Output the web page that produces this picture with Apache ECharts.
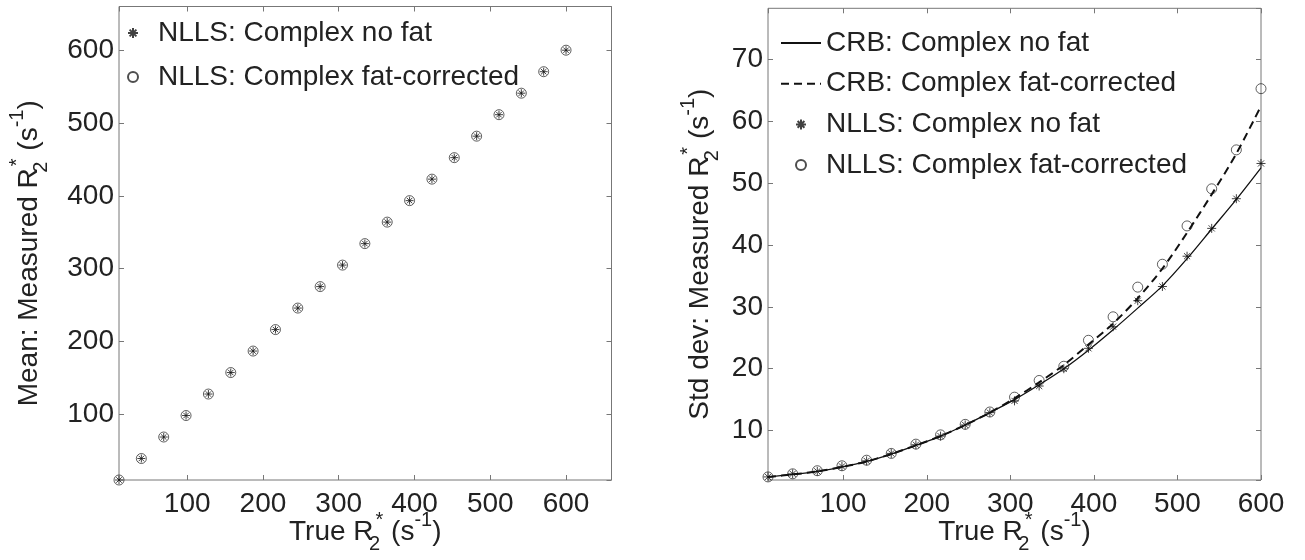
<!DOCTYPE html>
<html>
<head>
<meta charset="utf-8">
<script src="https://cdn.jsdelivr.net/npm/echarts@6/dist/echarts.min.js"></script>
<style>
  html, body { margin: 0; padding: 0; background: #fff; }
  #chart { width: 1305px; height: 560px; }
</style>
</head>
<body>
<div id="chart"></div>
<script>
// true R2* values (x positions of the markers)
const trueR2 = [10, 39.5, 69, 98.5, 128, 157.5, 187, 216.5, 246, 275.5, 305, 334.5, 364, 393.5, 423, 452.5, 482, 511.5, 541, 570.5, 600];

// left panel: mean of measured R2*
const meanNoFat = [10, 39.5, 69, 98.5, 128, 157.5, 187, 216.5, 246, 275.5, 305, 334.5, 364, 393.5, 423, 452.5, 482, 511.5, 541, 570.5, 600];
const meanFatCorr = [10, 39.5, 69, 98.5, 128, 157.5, 187, 216.5, 246, 275.5, 305, 334.5, 364, 393.5, 423, 452.5, 482, 511.5, 541, 570.5, 600];

// right panel: standard deviation of measured R2*
const sdNoFat = [2.5, 3.0, 3.4, 4.2, 5.1, 6.3, 7.7, 9.1, 10.9, 12.9, 14.8, 17.2, 20.0, 23.3, 26.8, 31.0, 33.3, 38.2, 42.7, 47.5, 53.2];
const sdFatCorr = [2.5, 3.0, 3.5, 4.3, 5.2, 6.3, 7.8, 9.3, 11.0, 13.0, 15.4, 18.1, 20.4, 24.6, 28.4, 33.2, 36.9, 43.1, 49.1, 55.4, 65.3];
const crbNoFat = [2.5, 2.9, 3.4, 4.1, 5.0, 6.2, 7.6, 9.1, 10.9, 12.9, 15.0, 17.4, 20.0, 23.0, 26.3, 29.8, 33.4, 37.8, 42.6, 47.4, 52.5];
const crbFatCorr = [2.5, 2.9, 3.4, 4.1, 5.0, 6.2, 7.6, 9.1, 10.9, 12.9, 15.2, 17.8, 20.6, 23.9, 27.3, 31.4, 36.2, 42.0, 48.2, 54.8, 62.5];

const FONT = "'Liberation Sans', Arial, sans-serif";
const FS = 28;
const TEXT = '#222';
const FRAME = '#777';
const STAR = 'path://M0,5L10,5M5,0L5,10M1.6,1.6L8.4,8.4M1.6,8.4L8.4,1.6';

function pairs(xs, ys) {
  return xs.map((x, i) => [x, ys[i]]);
}

const rich = {
  t: { fontSize: FS, lineHeight: 44, verticalAlign: 'middle', color: TEXT, fontFamily: FONT },
  sub: { fontSize: 20, lineHeight: 20, verticalAlign: 'bottom', color: TEXT, fontFamily: FONT, width: 2 },
  sup: { fontSize: 20, lineHeight: 20, verticalAlign: 'top', color: TEXT, fontFamily: FONT },
};

function valueAxis(gridIndex, min, max, opts = {}) {
  return Object.assign({
    type: 'value',
    gridIndex,
    min,
    max,
    splitLine: { show: false },
    axisLine: { show: false },
    axisTick: { show: true, inside: true, length: 5, lineStyle: { color: FRAME, width: 1 } },
    axisLabel: {
      show: true, margin: 10, color: TEXT, fontSize: FS, fontFamily: FONT,
      showMinLabel: false, showMaxLabel: false,
    },
    nameLocation: 'middle',
    nameMoveOverlap: false,
    nameTextStyle: { rich },
  }, opts);
}

function mirror(axis, position) {
  return Object.assign({}, axis, {
    position,
    name: '',
    axisLabel: { show: false },
  });
}

const yLabel = {
  show: true, margin: 5, color: TEXT, fontSize: FS, fontFamily: FONT,
  showMinLabel: false, showMaxLabel: false,
};

const xLeft = valueAxis(0, 10, 660, {
  position: 'bottom', splitNumber: 6,
  name: '{t|True R}{sub|2}{sup|*}{t| (s}{sup|-1}{t|)}', nameGap: 30,
});
const yLeft = valueAxis(0, 10, 660, {
  position: 'left', splitNumber: 6, axisLabel: yLabel,
  name: '{t|Mean: Measured R}{sub|2}{sup|*}{t| (s}{sup|-1}{t|)}', nameGap: 68, nameRotate: 90,
  nameTextStyle: { rich, padding: [0, 20, 0, 0] },
});
const xRight = valueAxis(1, 10, 600, {
  position: 'bottom', splitNumber: 6,
  name: '{t|True R}{sub|2}{sup|*}{t| (s}{sup|-1}{t|)}', nameGap: 30,
});
xRight.axisLabel = Object.assign({}, xRight.axisLabel, { showMaxLabel: true });
const yRight = valueAxis(1, 2, 78.3, {
  position: 'left', splitNumber: 7, axisLabel: yLabel,
  name: '{t|Std dev: Measured R}{sub|2}{sup|*}{t| (s}{sup|-1}{t|)}', nameGap: 46, nameRotate: 90,
  nameTextStyle: { rich, padding: [0, 20, 0, 0] },
});

const starStyle = { color: 'transparent', borderColor: '#111', borderWidth: 1 };
const circleStyle = { color: 'transparent', borderColor: '#222', borderWidth: 0.9 };
const noSymbol = { color: 'transparent', borderColor: 'transparent', borderWidth: 0, opacity: 0 };
const legendText = { fontSize: FS, color: TEXT, fontFamily: FONT, lineHeight: 30 };

const chart = echarts.init(document.getElementById('chart'));
chart.setOption({
  backgroundColor: '#fff',
  animation: false,
  grid: [
    {
      left: 119, top: 6.5, width: 492.5, height: 473.5, outerBoundsMode: 'none', containLabel: false,
      show: true, borderColor: FRAME, borderWidth: 1, backgroundColor: 'transparent',
    },
    {
      left: 768, top: 8.3, width: 493, height: 471.7, outerBoundsMode: 'none', containLabel: false,
      show: true, borderColor: FRAME, borderWidth: 1, backgroundColor: 'transparent',
    },
  ],
  xAxis: [xLeft, mirror(xLeft, 'top'), xRight, mirror(xRight, 'top')],
  yAxis: [yLeft, mirror(yLeft, 'right'), yRight, mirror(yRight, 'right')],
  legend: [
    {
      orient: 'vertical', left: 122, top: 13, itemWidth: 40, itemHeight: 10, itemGap: 14,
      textStyle: legendText, selectedMode: false,
      data: ['NLLS: Complex no fat', 'NLLS: Complex fat-corrected'],
    },
    {
      orient: 'vertical', left: 775, top: 23, itemWidth: 40, itemHeight: 10, itemGap: 10.7,
      textStyle: legendText, selectedMode: false,
      data: [
        { name: 'CRB: Complex no fat', itemStyle: noSymbol },
        { name: 'CRB: Complex fat-corrected', itemStyle: noSymbol },
        'NLLS: Complex no fat',
        'NLLS: Complex fat-corrected',
      ],
    },
  ],
  series: [
    {
      name: 'NLLS: Complex no fat', type: 'scatter', xAxisIndex: 0, yAxisIndex: 0,
      symbol: STAR, symbolSize: 8, itemStyle: starStyle, data: pairs(trueR2, meanNoFat),
    },
    {
      name: 'NLLS: Complex fat-corrected', type: 'scatter', xAxisIndex: 0, yAxisIndex: 0,
      symbol: 'circle', symbolSize: 10, itemStyle: circleStyle, data: pairs(trueR2, meanFatCorr),
    },
    {
      name: 'CRB: Complex no fat', type: 'line', xAxisIndex: 2, yAxisIndex: 2,
      showSymbol: false, smooth: 0.3, symbol: 'none',
      lineStyle: { color: '#111', width: 1.3, type: 'solid' },
      itemStyle: { color: '#111' },
      data: pairs(trueR2, crbNoFat),
    },
    {
      name: 'CRB: Complex fat-corrected', type: 'line', xAxisIndex: 2, yAxisIndex: 2,
      showSymbol: false, smooth: 0.3, symbol: 'none',
      lineStyle: { color: '#111', width: 2, type: [8, 5] },
      itemStyle: { color: '#111' },
      data: pairs(trueR2, crbFatCorr),
    },
    {
      name: 'NLLS: Complex no fat', type: 'scatter', xAxisIndex: 2, yAxisIndex: 2,
      symbol: STAR, symbolSize: 9, itemStyle: starStyle, data: pairs(trueR2, sdNoFat),
    },
    {
      name: 'NLLS: Complex fat-corrected', type: 'scatter', xAxisIndex: 2, yAxisIndex: 2,
      symbol: 'circle', symbolSize: 10, itemStyle: circleStyle, data: pairs(trueR2, sdFatCorr),
    },
  ],
});
</script>
</body>
</html>
